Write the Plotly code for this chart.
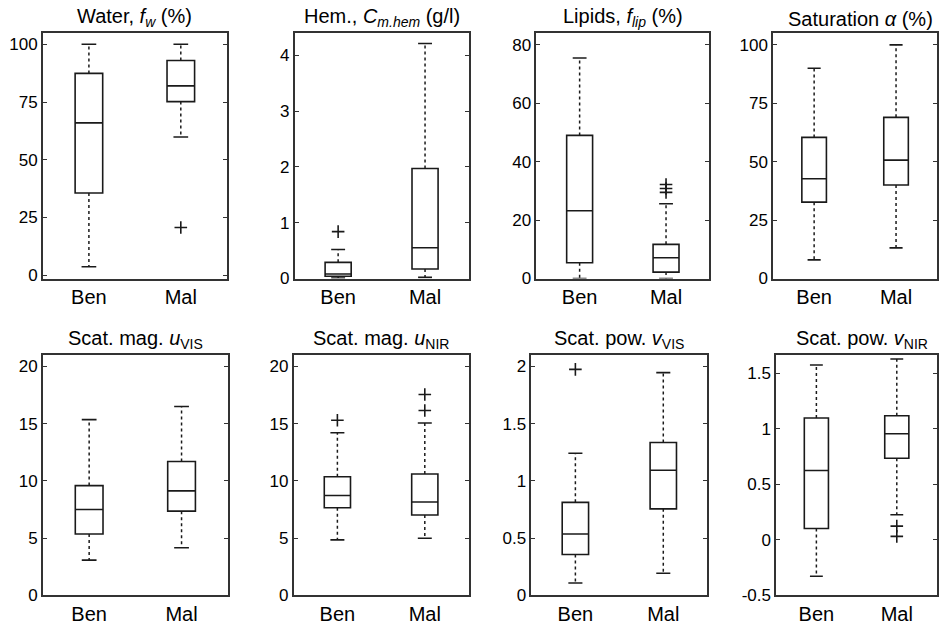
import plotly.graph_objects as go

# ---------------- data ----------------
CATS = ["Ben", "Mal"]
CAT_POS = [1, 2]

# each stats list: [lower whisker, Q1, median, Q3, upper whisker]
WATER_BEN = [3.7, 35.6, 66.0, 87.4, 100.0]
WATER_MAL = [59.9, 75.2, 82.0, 93.0, 100.0]
WATER_OUT_BEN = []
WATER_OUT_MAL = [20.7]

HEM_BEN = [0.01, 0.04, 0.08, 0.29, 0.52]
HEM_MAL = [0.02, 0.17, 0.55, 1.97, 4.21]
HEM_OUT_BEN = [0.84]
HEM_OUT_MAL = []

LIP_BEN = [0.0, 5.4, 23.2, 49.0, 75.5]
LIP_MAL = [0.0, 2.2, 7.1, 11.7, 25.6]
LIP_OUT_BEN = []
LIP_OUT_MAL = [29.5, 30.8, 32.2]

SAT_BEN = [8.0, 32.7, 42.7, 60.4, 90.0]
SAT_MAL = [13.1, 40.0, 50.7, 69.0, 100.0]
SAT_OUT_BEN = []
SAT_OUT_MAL = []

UVIS_BEN = [3.08, 5.36, 7.5, 9.59, 15.35]
UVIS_MAL = [4.17, 7.36, 9.13, 11.7, 16.5]
UVIS_OUT_BEN = []
UVIS_OUT_MAL = []

UNIR_BEN = [4.85, 7.65, 8.73, 10.36, 14.2]
UNIR_MAL = [4.99, 7.02, 8.16, 10.6, 15.06]
UNIR_OUT_BEN = [15.3]
UNIR_OUT_MAL = [16.15, 17.55]

VVIS_BEN = [0.108, 0.357, 0.536, 0.813, 1.241]
VVIS_MAL = [0.194, 0.756, 1.093, 1.335, 1.946]
VVIS_OUT_BEN = [1.974]
VVIS_OUT_MAL = []

VNIR_BEN = [-0.327, 0.103, 0.625, 1.097, 1.574]
VNIR_MAL = [0.227, 0.735, 0.956, 1.118, 1.628]
VNIR_OUT_BEN = []
VNIR_OUT_MAL = [0.032, 0.124]

TITLES = [
    "Water, <i>f</i><sub><i>w</i></sub> (%)",
    "Hem., <i>C</i><sub><i>m.hem</i></sub> (g/l)",
    "Lipids, <i>f</i><sub><i>lip</i></sub> (%)",
    "Saturation <i>α</i> (%)",
    "Scat. mag. <i>u</i><sub>VIS</sub>",
    "Scat. mag. <i>u</i><sub>NIR</sub>",
    "Scat. pow. <i>v</i><sub>VIS</sub>",
    "Scat. pow. <i>v</i><sub>NIR</sub>",
]
TICKS = [
    [0, 25, 50, 75, 100],
    [0, 1, 2, 3, 4],
    [0, 20, 40, 60, 80],
    [0, 25, 50, 75, 100],
    [0, 5, 10, 15, 20],
    [0, 5, 10, 15, 20],
    [0, 0.5, 1, 1.5, 2],
    [-0.5, 0, 0.5, 1, 1.5],
]
TICK_TEXT = [
    ["0", "25", "50", "75", "100"],
    ["0", "1", "2", "3", "4"],
    ["0", "20", "40", "60", "80"],
    ["0", "25", "50", "75", "100"],
    ["0", "5", "10", "15", "20"],
    ["0", "5", "10", "15", "20"],
    ["0", "0.5", "1", "1.5", "2"],
    ["-0.5", "0", "0.5", "1", "1.5"],
]

PANELS = [
    (WATER_BEN, WATER_MAL, WATER_OUT_BEN, WATER_OUT_MAL),
    (HEM_BEN, HEM_MAL, HEM_OUT_BEN, HEM_OUT_MAL),
    (LIP_BEN, LIP_MAL, LIP_OUT_BEN, LIP_OUT_MAL),
    (SAT_BEN, SAT_MAL, SAT_OUT_BEN, SAT_OUT_MAL),
    (UVIS_BEN, UVIS_MAL, UVIS_OUT_BEN, UVIS_OUT_MAL),
    (UNIR_BEN, UNIR_MAL, UNIR_OUT_BEN, UNIR_OUT_MAL),
    (VVIS_BEN, VVIS_MAL, VVIS_OUT_BEN, VVIS_OUT_MAL),
    (VNIR_BEN, VNIR_MAL, VNIR_OUT_BEN, VNIR_OUT_MAL),
]

# ---------------- layout (pixel geometry) ----------------
W, H = 939, 632
Y_RANGES = [
    [-1.4, 104.7], [0, 4.39], [0, 83.9], [0, 104.9],
    [0, 20.97], [0, 20.97], [0, 2.097], [-0.5, 1.662],
]
X_PX = [(43, 227), (295, 469), (537, 710), (774, 938),
        (43, 228), (294, 469), (532, 708), (777, 938)]
Y_PX = [(34, 283)] * 4 + [(361, 605)] * 4

FONT = "Liberation Sans, Arial, sans-serif"
INK = "#1a1a1a"
AX = "#333333"
BOX_W = 0.30
CAP_HALF = 0.08

fig = go.Figure()
layout = dict(
    width=W, height=H, margin=dict(l=0, r=0, t=0, b=0),
    paper_bgcolor="white", plot_bgcolor="white", showlegend=False,
    font=dict(family=FONT, color="black"),
)
annotations = []

for i, (ben, mal, out_b, out_m) in enumerate(PANELS):
    n = i + 1
    xa = "x" if n == 1 else f"x{n}"
    ya = "y" if n == 1 else f"y{n}"
    stats = [ben, mal]

    # boxes (Q1, median, Q3)
    fig.add_trace(go.Box(
        x=CAT_POS,
        q1=[s[1] for s in stats], median=[s[2] for s in stats], q3=[s[3] for s in stats],
        lowerfence=[s[1] for s in stats], upperfence=[s[3] for s in stats],
        width=BOX_W, whiskerwidth=0, boxpoints=False,
        fillcolor="rgba(0,0,0,0)", line=dict(color=INK, width=1.6),
        xaxis=xa, yaxis=ya, hoverinfo="skip",
    ))

    # dotted whiskers
    wx, wy = [], []
    for p, s in zip(CAT_POS, stats):
        wx += [p, p, None, p, p, None]
        wy += [s[3], s[4], None, s[1], s[0], None]
    fig.add_trace(go.Scatter(x=wx, y=wy, mode="lines",
                             line=dict(color=INK, width=1.5, dash="dot"),
                             xaxis=xa, yaxis=ya, hoverinfo="skip"))

    # whisker caps
    cx, cy = [], []
    for p, s in zip(CAT_POS, stats):
        for v in (s[0], s[4]):
            cx += [p - CAP_HALF, p + CAP_HALF, None]
            cy += [v, v, None]
    fig.add_trace(go.Scatter(x=cx, y=cy, mode="lines",
                             line=dict(color=INK, width=1.6),
                             xaxis=xa, yaxis=ya, hoverinfo="skip"))

    # outliers
    ox = [CAT_POS[0]] * len(out_b) + [CAT_POS[1]] * len(out_m)
    oy = list(out_b) + list(out_m)
    if oy:
        fig.add_trace(go.Scatter(x=ox, y=oy, mode="markers",
                                 marker=dict(symbol="cross-thin", size=9,
                                             line=dict(color=INK, width=1.6)),
                                 xaxis=xa, yaxis=ya, hoverinfo="skip"))

    x0, x1 = X_PX[i]
    y0, y1 = Y_PX[i]
    xkey = "xaxis" if n == 1 else f"xaxis{n}"
    ykey = "yaxis" if n == 1 else f"yaxis{n}"
    layout[xkey] = dict(
        domain=[x0 / W, x1 / W], anchor=ya, range=[0.5, 2.5],
        tickvals=CAT_POS, ticktext=CATS, ticks="", showgrid=False, zeroline=False,
        showline=True, mirror=True, linecolor=AX, linewidth=1.7,
        tickfont=dict(family=FONT, size=20, color="black"),
    )
    layout[ykey] = dict(
        domain=[1 - y1 / H, 1 - y0 / H], anchor=xa, range=Y_RANGES[i],
        tickvals=TICKS[i], ticktext=TICK_TEXT[i],
        ticks="inside", ticklen=4, tickcolor=AX, tickwidth=1.4,
        showgrid=False, zeroline=False,
        showline=True, mirror="ticks", linecolor=AX, linewidth=1.7,
        tickfont=dict(family=FONT, size=17, color="black"),
    )
    right_edge = (n in (4, 8))
    annotations.append(dict(
        text=TITLES[i], xref=f"{xa} domain", yref=f"{ya} domain",
        x=0.5, xanchor="center", xshift=5 if right_edge else 0,
        y=1, yanchor="bottom", yshift=1,
        showarrow=False, font=dict(family=FONT, size=20, color="black"),
    ))

layout["annotations"] = annotations
fig.update_layout(**layout)
fig.write_html(
    "out.html",
    config={"displayModeBar": False},
    post_script="document.body.style.margin='0';document.body.style.padding='0';"
                "document.body.style.overflow='hidden';",
)
